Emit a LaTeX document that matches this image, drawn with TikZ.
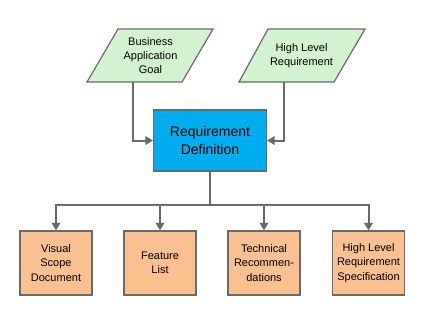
\documentclass[tikz,border=0pt]{standalone}
\usepackage{fontspec}
\setmainfont{Liberation Sans}
\usetikzlibrary{arrows.meta}
\definecolor{pgreen}{HTML}{D3F2CF}
\definecolor{pblue}{HTML}{00AEEF}
\definecolor{porange}{HTML}{FAC08F}
\definecolor{pline}{HTML}{6A6A6A}
\begin{document}
\begin{tikzpicture}[x=1pt,y=-1pt,
  para/.style={draw=pline,line width=1.2pt,fill=pgreen},
  paratext/.style={align=center,font=\fontsize{11}{13.8}\selectfont},
  mainbox/.style={draw=pline,line width=1.2pt,fill=pblue,minimum width=113pt,minimum height=61pt,align=center,font=\fontsize{14}{17.3}\selectfont},
  outbox/.style={draw=pline,line width=1.2pt,fill=porange,minimum width=72pt,minimum height=64pt,align=center,font=\fontsize{11}{14.3}\selectfont},
  conn/.style={draw=pline,line width=2pt},
  arr/.style={conn,-{Triangle[width=8.5pt,length=7.5pt]}}]
\useasboundingbox (0,0) rectangle (425,325);
% parallelograms
\draw[para] (118,29) -- (213,29) -- (182,82) -- (87,82) -- cycle;
\draw[para] (268,29) -- (365,29) -- (334,82) -- (239,82) -- cycle;
\node[paratext] (bag) at (150.5,55.5) {Business\\Application\\Goal};
\node[paratext] (hlr) at (301.5,55.5) {High Level\\Requirement};
\coordinate (bagb) at (133,82);
\coordinate (hlrb) at (284,82);
% main box
\node[mainbox] (rd) at (210,140.5) {Requirement\\Definition};
% outputs
\node[outbox] (o1) at (56,263) {Visual\\Scope\\Document};
\node[outbox] (o2) at (160,263) {Feature\\List};
\node[outbox] (o3) at (264,263) {Technical\\Recommen-\\dations};
\node[outbox] (o4) at (368.5,263) {High Level\\Requirement\\Specification};
% connectors
\draw[arr] (bagb) |- (rd.west);
\draw[arr] (hlrb) |- (rd.east);
\coordinate (bus) at (210,205);
\draw[conn] (rd.south) -- (bus);
\draw[arr] (bus) -| (o1.north);
\draw[arr] (bus) -| (o2.north);
\draw[arr] (bus) -| (o3.north);
\draw[arr] (bus) -| (o4.north);
\end{tikzpicture}
\end{document}
